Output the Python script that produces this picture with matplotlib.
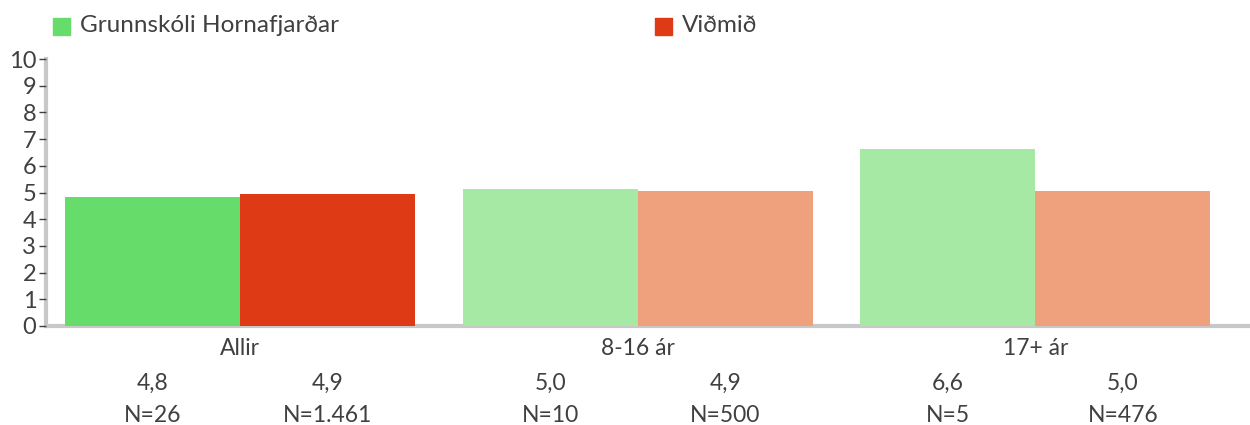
import numpy as np
import matplotlib.pyplot as plt
from matplotlib.patches import Rectangle

plt.rcParams['font.family'] = ['Lato', 'DejaVu Sans']

categories = ["Allir", "8-16 ár", "17+ ár"]
school = [4.83, 5.13, 6.63]
benchmark = [4.94, 5.05, 5.04]
school_labels = ["4,8", "5,0", "6,6"]
bench_labels = ["4,9", "4,9", "5,0"]
school_n = ["N=26", "N=10", "N=5"]
bench_n = ["N=1.461", "N=500", "N=476"]
series_names = ["Grunnskóli Hornafjarðar", "Viðmið"]

school_colors = ["#66dd6a", "#a5e9a5", "#a5e9a5"]
bench_colors = ["#dd3a15", "#eea17c", "#eea17c"]
text_col = "#404040"
fs = 16.5

fig = plt.figure(figsize=(12.5, 4.25), dpi=100)
ax = fig.add_axes([0.0368, 0.233, 0.9632, 0.628])

x = np.arange(len(categories))
w = 0.44
ax.bar(x - w / 2, school, width=w, color=school_colors, zorder=2)
ax.bar(x + w / 2, benchmark, width=w, color=bench_colors, zorder=2)

ax.set_xlim(-0.488, 2.54)
ax.set_ylim(0, 10)
ax.set_yticks(range(0, 11))
ax.tick_params(axis='y', labelsize=17, colors=text_col, length=5, width=1, pad=2)
ax.set_xticks([])

for s in ["top", "right"]:
    ax.spines[s].set_visible(False)
for s in ["left", "bottom"]:
    ax.spines[s].set_color("#c8c8c8")
    ax.spines[s].set_linewidth(3)
    ax.spines[s].set_zorder(1)

trans = ax.get_xaxis_transform()
for i, cat in enumerate(categories):
    ax.text(x[i], -0.085, cat, transform=trans, ha='center', va='center',
            fontsize=fs, color=text_col)
    ax.text(x[i] - w / 2, -0.215, school_labels[i], transform=trans, ha='center',
            va='center', fontsize=fs, color=text_col)
    ax.text(x[i] + w / 2, -0.215, bench_labels[i], transform=trans, ha='center',
            va='center', fontsize=fs, color=text_col)
    ax.text(x[i] - w / 2, -0.335, school_n[i], transform=trans, ha='center',
            va='center', fontsize=fs, color=text_col)
    ax.text(x[i] + w / 2, -0.335, bench_n[i], transform=trans, ha='center',
            va='center', fontsize=fs, color=text_col)

# legend drawn by hand to match the wide spacing
legend_x = [53 / 1250, 655 / 1250]
legend_cols = [school_colors[0], bench_colors[0]]
for lx, name, col in zip(legend_x, series_names, legend_cols):
    fig.patches.append(Rectangle((lx, 1 - 35 / 425), 17 / 1250, 17 / 425,
                                 transform=fig.transFigure, color=col))
    fig.text(lx + 27 / 1250, 1 - 26 / 425, name, ha='left', va='center',
             fontsize=17.5, color=text_col)

fig.savefig("out.png", dpi=100)
